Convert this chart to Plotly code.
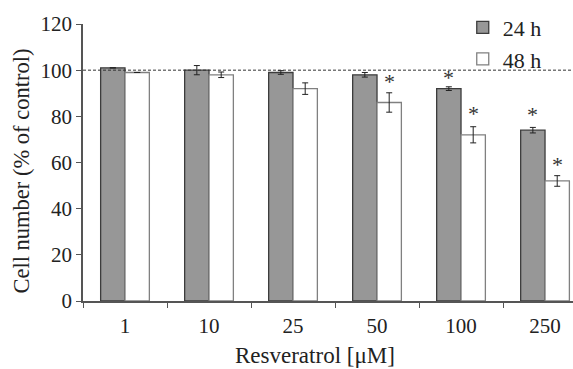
import plotly.graph_objects as go

categories = ["1", "10", "25", "50", "100", "250"]
h24 = [101, 100, 99, 98, 92, 74]
h24_err = [0, 2.0, 0.8, 1.0, 0.8, 1.2]
h48 = [99, 98, 92, 86, 72, 52]
h48_err = [0, 1.2, 2.5, 4.2, 3.5, 2.3]
# significance markers: (category index, series offset sign, y value)
stars = [(3, +1, 95.0), (4, -1, 96.8), (4, +1, 81.4), (5, -1, 81.0), (5, +1, 59.0)]

FONT = "Times New Roman, Liberation Serif, DejaVu Serif, serif"

fig = go.Figure()
fig.add_trace(go.Bar(
    x=categories, y=h24, name="24 h",
    marker=dict(color="#979797", line=dict(color="#3c3c3c", width=1.3)),
    error_y=dict(type="data", array=h24_err, color="#222", thickness=1, width=3),
))
fig.add_trace(go.Bar(
    x=categories, y=h48, name="48 h",
    marker=dict(color="#ffffff", line=dict(color="#808080", width=1.3)),
    error_y=dict(type="data", array=h48_err, color="#222", thickness=1, width=3),
))

annotations = []
half = 0.29 / 2
for idx, sgn, yv in stars:
    annotations.append(dict(
        x=idx + sgn * half, y=yv, xref="x", yref="y", text="*", showarrow=False,
        font=dict(family=FONT, size=22, color="#333"), yanchor="middle", xanchor="center",
    ))
annotations.append(dict(
    x=(315 - 83) / 490, y=-0.198, xref="paper", yref="paper",
    text="Resveratrol [μM]", showarrow=False,
    font=dict(family=FONT, size=23, color="#222"), xanchor="center", yanchor="middle",
))
annotations.append(dict(
    x=-0.125, y=0.47, xref="paper", yref="paper",
    text="Cell number (% of control)", showarrow=False, textangle=-90,
    font=dict(family=FONT, size=22.5, color="#222"), xanchor="center", yanchor="middle",
))

fig.add_shape(type="line", xref="paper", yref="y", x0=0, x1=1, y0=100, y1=100,
              line=dict(color="#333", width=1, dash="3px,2px"))

fig.update_layout(
    width=573, height=369,
    margin=dict(l=83, r=0, t=24, b=68),
    paper_bgcolor="white", plot_bgcolor="white",
    barmode="group", bargap=0.42, bargroupgap=0,
    font=dict(family=FONT, size=20, color="#222"),
    showlegend=True,
    legend=dict(x=0.775, y=1.063, xanchor="left", yanchor="top",
                font=dict(family=FONT, size=22, color="#222"),
                bgcolor="rgba(0,0,0,0)", traceorder="normal"),
    annotations=annotations,
    xaxis=dict(
        type="category", range=[-0.5, 5.333], tickson="boundaries",
        ticks="outside", ticklen=5, tickcolor="#555", showline=True,
        linecolor="#555", linewidth=1.5, showgrid=False, zeroline=False,
        ticklabelstandoff=5,
        tickfont=dict(family=FONT, size=21, color="#222"),
    ),
    yaxis=dict(
        range=[0, 120], dtick=20, ticks="outside", ticklen=5, tickcolor="#555",
        showline=True, linecolor="#555", linewidth=1.5, showgrid=False,
        zeroline=False, tickfont=dict(family=FONT, size=21, color="#222"),
    ),
)

fig.write_html("out.html")
